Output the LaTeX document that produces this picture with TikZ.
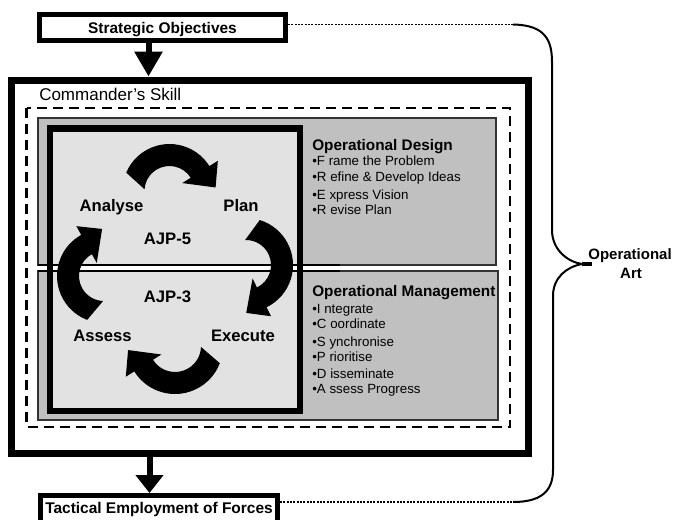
\documentclass[tikz,border=0pt]{standalone}
\usepackage{fontspec}
\setmainfont{Liberation Sans}
\usetikzlibrary{arrows.meta,calc}
\definecolor{greyfill}{HTML}{C0C0C0}
\definecolor{lightfill}{HTML}{E2E2E2}
\definecolor{greyedge}{HTML}{333333}
% fat curved arrow (clockwise): centre x, centre y (image px, y down), radius, start angle, end angle, head direction
\newcommand\fatarc[6]{%
  \begin{scope}[shift={(#1,-#2)}]
    \pgfmathsetmacro\faRo{#3+11}%
    \pgfmathsetmacro\faRi{#3-11}%
    \pgfmathsetmacro\faHo{#3+21}%
    \pgfmathsetmacro\faHi{#3-21}%
    \pgfmathsetmacro\faAo{#4-7}%
    \pgfmathsetmacro\faAi{#4+12}%
    \pgfmathsetmacro\faTx{#3*cos(#5)+22*cos(#6)}%
    \pgfmathsetmacro\faTy{#3*sin(#5)+22*sin(#6)}%
    \fill[black] (\faAo:\faRo) arc[start angle=\faAo,end angle=#5,radius=\faRo]
      -- (#5:\faHo) -- (\faTx,\faTy) -- (#5:\faHi) -- (#5:\faRi)
      arc[start angle=#5,end angle=\faAi,radius=\faRi] -- cycle;
  \end{scope}}
\begin{document}
\begin{tikzpicture}[x=0.75pt,y=0.75pt,
  endbox/.style={draw, line width=3.75pt, inner sep=0pt,
    font=\bfseries\fontsize{11.6pt}{14pt}\selectfont, text height=8.3pt, text depth=0pt},
  flowarrow/.style={line width=4.5pt},
  cyc/.style={font=\bfseries\fontsize{12.5pt}{15pt}\selectfont, anchor=base, inner sep=0pt},
  hd/.style={font=\bfseries\fontsize{11.5pt}{14pt}\selectfont, anchor=base west, inner sep=0pt},
  itm/.style={font=\fontsize{10pt}{12pt}\selectfont, anchor=base west, inner sep=0pt},
  artlbl/.style={font=\bfseries\fontsize{11.25pt}{14pt}\selectfont, anchor=base, inner sep=0pt},
  dotline/.style={line width=1.3pt, dash pattern=on 1.5pt off 1pt},
  ]
\useasboundingbox (0,0) rectangle (675,-519);
\clip (0,0) rectangle (675,-519);

% outer box (Commander's Skill)
\node[draw, line width=5.25pt, inner sep=0pt, minimum width=388.1pt, minimum height=279.75pt] (cs) at (270.25,-266.5) {};
\node[font=\fontsize{12.75pt}{15pt}\selectfont, anchor=base west, inner sep=0pt] (cskill) at (39,-100) {Commander’s Skill};

% dashed box
\draw[line width=1.9pt, dash pattern=on 7.5pt off 4.5pt] (26.5,-108) rectangle (510,-427);

% grey boxes
\draw[greyedge, fill=greyfill, line width=1.1pt] (38,-118) rectangle (496,-265);
\draw[greyedge, fill=greyfill, line width=1.1pt] (38,-271) rectangle (498,-420);

% AJP box fill
\fill[lightfill] (50,-128.5) rectangle (300,-411);
% separating band
\fill[white] (38,-265) rectangle (340,-271);
\draw[line width=1.1pt] (38,-265) -- (340,-265);
\draw[line width=1.1pt] (38,-271) -- (340,-271);
% AJP box border
\draw[line width=4.9pt] (50,-128.5) rectangle (300,-411);

% cycle arrows
\fatarc{169.5}{191}{36}{164}{32}{-45}
\fatarc{246}{265}{36}{80}{-64}{-135}
\fatarc{104}{276}{36}{256}{119}{45}
\fatarc{175}{346}{37}{-14}{-148}{135}

% cycle labels
\node[cyc] (analyse) at (111.5,-211) {Analyse};
\node[cyc] (plan) at (241,-211) {Plan};
\node[cyc] (ajp5) at (167.5,-244) {AJP-5};
\node[cyc] (ajp3) at (167.5,-302) {AJP-3};
\node[cyc] (assess) at (102.5,-341) {Assess};
\node[cyc] (execute) at (243,-341) {Execute};

% Operational Design
\node[hd] (od) at (312,-150) {Operational Design};
\node[itm] (od1) at (312,-165.7) {•F rame the Problem};
\node[itm] (od2) at (312,-181.7) {•R efine \& Develop Ideas};
\node[itm] (od3) at (312,-199) {•E xpress Vision};
\node[itm] (od4) at (312,-214.3) {•R evise Plan};

% Operational Management
\node[hd] (om) at (312,-296) {Operational Management};
\node[itm] (om1) at (312,-313.7) {•I ntegrate};
\node[itm] (om2) at (312,-328.7) {•C oordinate};
\node[itm] (om3) at (312,-346.3) {•S ynchronise};
\node[itm] (om4) at (312,-361.3) {•P rioritise};
\node[itm] (om5) at (312,-378) {•D isseminate};
\node[itm] (om6) at (312,-393) {•A ssess Progress};

% top and bottom boxes
\node[endbox, minimum width=184.5pt, minimum height=19.5pt] (so) at (162.5,-27.5) {Strategic Objectives};
\node[endbox, text depth=2.6pt, minimum width=177.75pt, minimum height=20.6pt] (te) at (159,-509.25) {Tactical Employment of Forces};

% flow arrows
\coordinate (ax) at (148.5,0);
\coordinate (bx) at (149.5,0);
\draw[flowarrow, -{Triangle[width=20.25pt,length=18.75pt]}] (so.south -| ax) -- (cs.north -| ax);
\draw[flowarrow, -{Triangle[width=20.25pt,length=13.5pt]}] (cs.south -| bx) -- (te.north -| bx);

% dotted lines and brace
\coordinate (bt) at (513,-24.5);
\coordinate (bb) at (513,-502);
\coordinate (tip) at (582,-264);
\coordinate (tipend) at (592,-264);
\draw[dotline] (so.east |- bt) -- (bt);
\draw[dotline] (te.east |- bb) -- (bb);
\draw[line width=1.5pt] (bt) .. controls (545,-25) and (552,-40) .. (552,-62) -- (552,-230)
  .. controls (552,-250) and (568,-262) .. (tip)
  .. controls (566,-267) and (553,-278) .. (553,-296) -- (553,-470)
  .. controls (553,-492) and (540,-502) .. (bb);
\draw[line width=2.5pt] (tip) -- (tipend);
\node[artlbl] (oa1) at (630,-259) {Operational};
\node[artlbl] (oa2) at (631,-278) {Art};
\end{tikzpicture}
\end{document}
